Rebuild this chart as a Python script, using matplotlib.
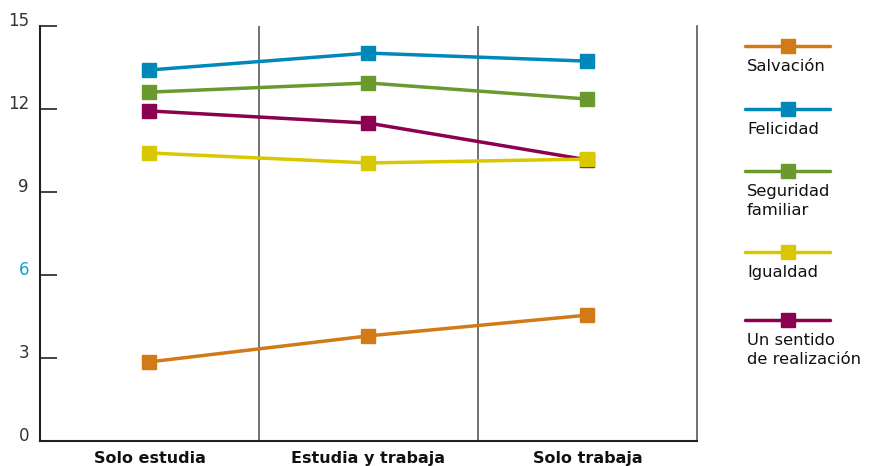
import numpy as np
import matplotlib.pyplot as plt
from matplotlib.lines import Line2D

categories = ["Solo estudia", "Estudia y trabaja", "Solo trabaja"]
series_names = ["Salvación", "Felicidad", "Seguridad\nfamiliar", "Igualdad",
                "Un sentido\nde realización"]
salvacion = [2.86, 3.80, 4.55]
felicidad = [13.41, 14.02, 13.73]
seguridad = [12.61, 12.94, 12.36]
igualdad = [10.41, 10.05, 10.19]
sentido = [11.93, 11.49, 10.16]
y_ticks = [0, 3, 6, 9, 12, 15]

colors = ["#D27A17", "#0088BB", "#6A9A2E", "#D9C800", "#8B004F"]
# draw order: yellow on top of maroon at the last point
draw_order = [0, 1, 2, 4, 3]


def main():
    plt.rcParams['font.family'] = ['DejaVu Sans']
    fig = plt.figure(figsize=(8.78, 4.66), dpi=100)
    ax = fig.add_axes([40 / 878, 25 / 466, 657 / 878, 415 / 466])

    values = [salvacion, felicidad, seguridad, igualdad, sentido]
    x = np.arange(len(categories))
    for z, i in enumerate(draw_order):
        ax.plot(x, values[i], color=colors[i], linewidth=2.5, marker="s",
                markersize=9.5, zorder=3 + z)

    ax.set_xlim(-0.5, len(categories) - 0.5)
    ax.set_ylim(0, 15)
    for sep in x[:-1] + 0.5:
        ax.axvline(sep, color="#4a4a4a", linewidth=1.1, zorder=1)

    ax.spines["top"].set_visible(False)
    ax.spines["right"].set_color("#4a4a4a")
    ax.spines["right"].set_linewidth(1.1)
    ax.spines["left"].set_color("#222222")
    ax.spines["left"].set_linewidth(1.5)
    ax.spines["bottom"].set_color("#222222")
    ax.spines["bottom"].set_linewidth(1.5)

    ax.set_yticks(y_ticks)
    ax.set_yticklabels([str(t) for t in y_ticks])
    ax.tick_params(axis="y", direction="in", length=12, width=1.2,
                   color="#222222", labelsize=12, labelcolor="#333333", pad=8)
    for lab in ax.get_yticklabels():
        lab.set_verticalalignment("baseline")
        if lab.get_text() == "6":
            lab.set_color("#1A9FD0")
    ax.set_xticks(x)
    ax.set_xticklabels(categories, fontweight="bold", fontsize=11.5,
                       color="#111111")
    ax.tick_params(axis="x", length=0, pad=7)

    # legend drawn in figure coordinates, label under each handle
    leg_y = [46, 109, 171, 252, 320]
    for i, name in enumerate(series_names):
        yy = 1 - leg_y[i] / 466
        fig.add_artist(Line2D([745 / 878, 830 / 878], [yy, yy],
                              color=colors[i], linewidth=2.5,
                              solid_capstyle="round"))
        fig.add_artist(Line2D([788 / 878], [yy], color=colors[i], marker="s",
                              markersize=9.5, linewidth=0))
        fig.text(747 / 878, yy - 13 / 466, name, fontsize=11.8,
                 color="#111111", va="top", ha="left", linespacing=1.35)

    fig.savefig("out.png", dpi=100)


if __name__ == "__main__":
    main()
